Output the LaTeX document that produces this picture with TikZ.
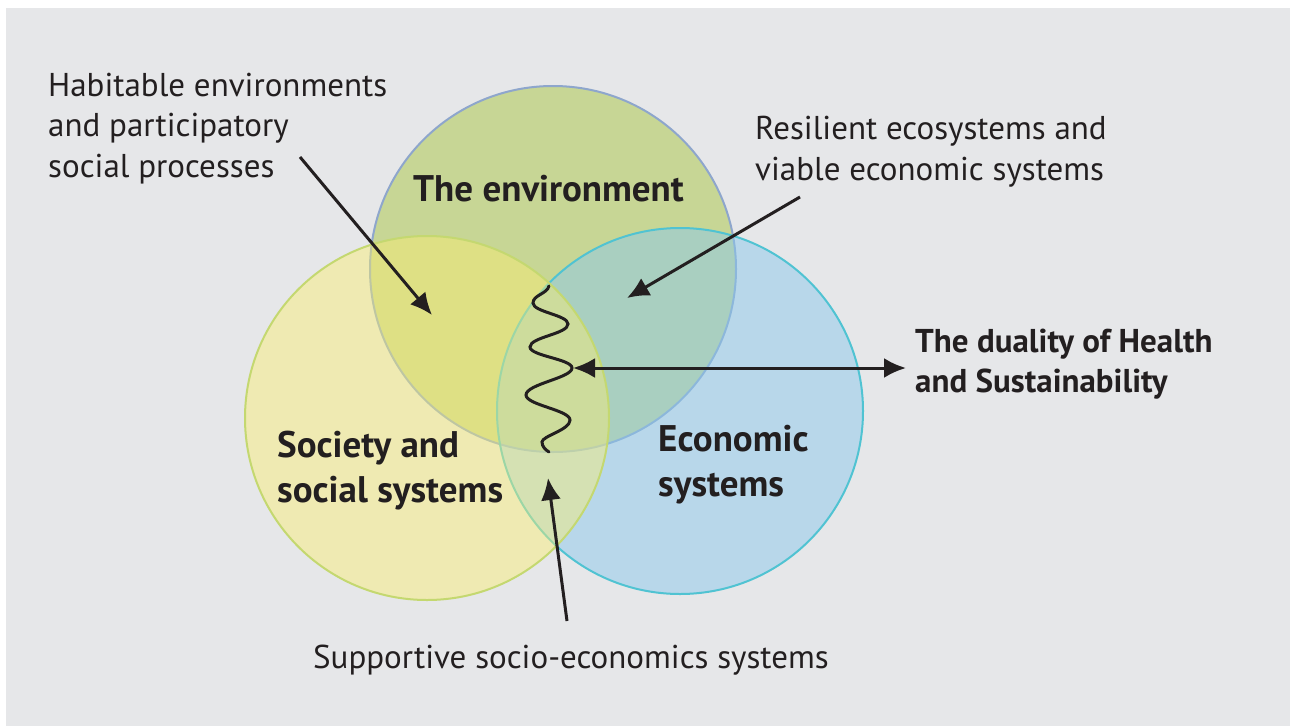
\documentclass[tikz,border=0pt]{standalone}
\usepackage{fontspec}
\setmainfont{PT Sans}
\usetikzlibrary{arrows.meta,positioning}
\definecolor{bg}{RGB}{230,231,233}
\definecolor{txt}{RGB}{35,31,32}
\definecolor{envfill}{RGB}{170,199,67}
\definecolor{envline}{RGB}{142,166,204}
\definecolor{ecofill}{RGB}{140,201,235}
\definecolor{ecoline}{RGB}{80,195,210}
\definecolor{socfill}{RGB}{250,238,113}
\definecolor{socline}{RGB}{196,216,112}
\tikzset{
  kor/.style={line width=2pt,fill opacity=0.5},
  lbl/.style={font=\fontsize{33}{40.5}\selectfont,align=left,text=txt,inner sep=0pt},
  fej/.style={font=\fontsize{37}{45}\selectfont\bfseries,align=left,text=txt,inner sep=0pt},
  nyil/.style={line width=3pt,draw=txt,-{Latex[length=22pt,width=20pt]}},
  kettos/.style={line width=3pt,draw=txt,{Latex[length=22pt,width=20pt]}-{Latex[length=22pt,width=20pt]}},
}

\begin{document}
\begin{tikzpicture}[x=1pt,y=-1pt]
  \useasboundingbox (0,0) rectangle (1290,726);
  \fill[white] (0,0) rectangle (1290,726);
  \fill[bg] (6,8) rectangle (1290,726);

  % the three circles
  \draw[kor,fill=envfill,draw=envline] (553,269) circle (183pt);
  \draw[kor,fill=ecofill,draw=ecoline] (680,411) circle (183pt);
  \draw[kor,fill=socfill,draw=socline,fill opacity=0.45] (427,418) circle (182pt);

  % circle titles (base = last line)
  \node[fej,anchor=base west] (envt) at (413,201) {The environment};
  \node[fej,anchor=base west] (soct) at (277,502) {Society and\\social systems};
  \node[fej,anchor=base west] (ecot) at (658,496) {Economic\\systems};

  % outer labels
  \node[lbl,anchor=base west] (hab) at (48,177) {Habitable environments\\and participatory\\social processes};
  \node[lbl,anchor=base west] (res) at (755,180) {Resilient ecosystems and\\viable economic systems};
  \node[lbl,anchor=base west] (sup) at (313,668) {Supportive socio-economics systems};
  \node[fej,anchor=base west,font=\fontsize{33}{40}\selectfont\bfseries] (dual) at (915,392) {The duality of Health\\and Sustainability};

  % wavy line in the middle
  \draw[line width=3pt,txt,line cap=round]
    (549,286) .. controls +(-2,8) and +(0,-8) .. (533,303)
              .. controls +(0,9) and +(0,-9) .. (568,324)
              .. controls +(0,10) and +(0,-10) .. (530,347)
              .. controls +(0,9) and +(0,-9) .. (572,368)
              .. controls +(0,10) and +(0,-11) .. (526,395)
              .. controls +(0,10) and +(0,-10) .. (570,420)
              .. controls +(0,10) and +(0,-6) .. (542,442)
              .. controls +(0,5) and +(-3,-2) .. (549,452);

  % arrows
  \coordinate (habtail) at (300,157);
  \coordinate (habtip) at (432,315);
  \coordinate (restail) at (800,197);
  \coordinate (restip) at (627,298);
  \coordinate (suptail) at (567,621);
  \coordinate (suptip) at (548,478);
  \coordinate (wave) at (573,368);
  \coordinate (dualtip) at (906,368);
  \draw[nyil] (habtail) -- (habtip);
  \draw[nyil] (restail) -- (restip);
  \draw[nyil] (suptail) -- (suptip);
  \draw[kettos] (wave) -- (dualtip);
\end{tikzpicture}
\end{document}
